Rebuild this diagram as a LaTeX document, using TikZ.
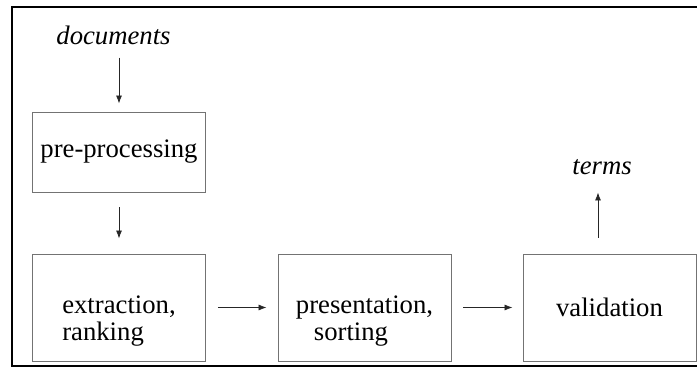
\documentclass[tikz,border=0pt]{standalone}
\usepackage{fontspec}
\setmainfont{Liberation Serif}
\usetikzlibrary{arrows.meta,calc}
\begin{document}
\begin{tikzpicture}[x=1pt,y=-1pt,
  every node/.style={font=\fontsize{26.7}{27}\selectfont},
  stagebox/.style={draw=black!55,line width=0.9pt,inner sep=0pt,minimum width=173pt},
  lbl/.style={inner sep=0pt},
  flow/.style={line width=0.8pt,draw=black!85,-{Latex[length=8pt,width=6pt]}}
]
\useasboundingbox (0,0) rectangle (697,377);
% outer frame (right side cut off)
\draw[line width=2pt] (697,7.5) -- (11.5,7.5) -- (11.5,366) -- (697,366);

\node[stagebox,minimum height=80pt] (pre) at (119,152) {pre-processing};
\node[stagebox,minimum height=107pt] (ext) at (119,307.5) {};
\node[stagebox,minimum height=107pt] (pres) at (364.5,307.5) {};
\node[stagebox,minimum height=107pt] (val) at (609.5,307.5) {validation};

\node[lbl,align=left] (extT) at ([yshift=-14pt]ext.center) {extraction,\\ranking};
\node[lbl,align=left] (presT) at ([yshift=-13.5pt]pres.center) {presentation,\\\hspace*{18pt}sorting};

\node[lbl,anchor=base,font=\fontsize{26.7}{27}\selectfont\itshape] (docs) at (113.5,45) {documents};
\node[lbl,anchor=base,font=\fontsize{26.7}{27}\selectfont\itshape] (terms) at (602,175) {terms};

\draw[flow,shorten <=12pt,shorten >=8pt] (docs.south -| pre.north) -- (pre.north);
\draw[flow,shorten <=15pt,shorten >=15pt] (pre.south) -- (ext.north);
\draw[flow,shorten <=12pt,shorten >=11pt] (ext.east) -- (pres.west);
\draw[flow,shorten <=12pt,shorten >=10pt] (pres.east) -- (val.west);
\coordinate (valtop) at ([xshift=-11.5pt]val.north);
\draw[flow,shorten <=16pt,shorten >=17pt] (valtop) -- (valtop |- terms.south);
\end{tikzpicture}
\end{document}
